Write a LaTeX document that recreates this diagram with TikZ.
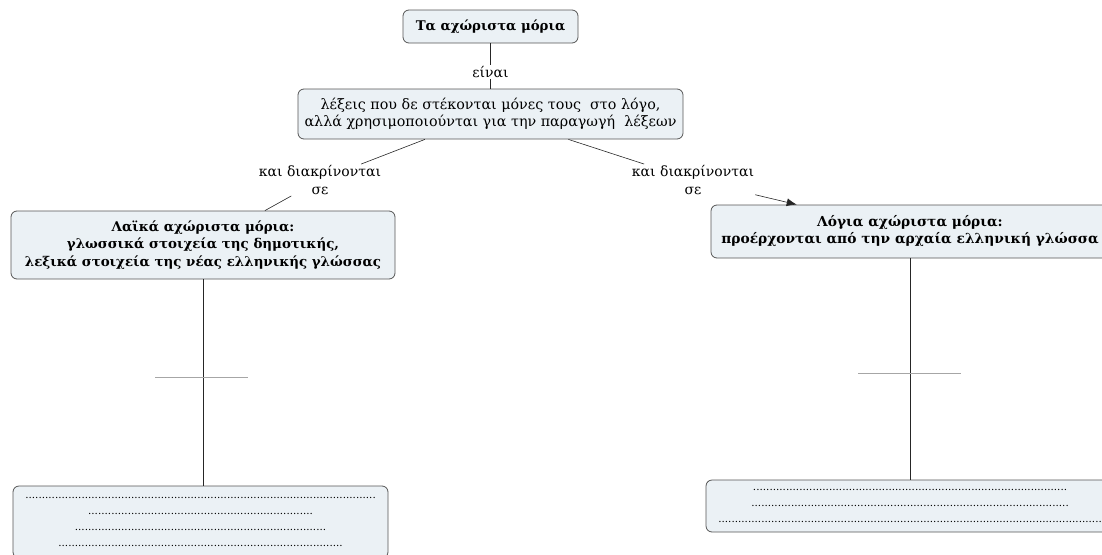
\documentclass[tikz,border=0pt]{standalone}
\usepackage{fontspec}
\setmainfont{DejaVu Serif}
\usetikzlibrary{arrows.meta}

\definecolor{boxfill}{HTML}{EBF1F5}
\definecolor{boxline}{HTML}{555555}
\newcommand{\dotrow}[1]{\foreach \k in {1,...,#1}{.}}

\begin{document}
\begin{tikzpicture}[x=1pt,y=-1pt,
    concept/.style={draw=boxline,fill=boxfill,rounded corners=6pt,thick,
        align=center,inner sep=0pt,font=\fontsize{14.3}{17.5}\selectfont},
    linker/.style={align=center,fill=white,inner sep=1pt,
        font=\fontsize{14}{18}\selectfont},
    link/.style={draw=black!85,semithick},
    emptylink/.style={draw=gray!70,thick}]
    \useasboundingbox (0,0) rectangle (1102,554);

    % Concepts
    \node[concept,minimum width=175,minimum height=33,font=\fontsize{13.3}{17}\selectfont\bfseries]
        (title) at (490.5,26.5) {Τα αχώριστα μόρια};
    \node[concept,minimum width=385,minimum height=50]
        (defn) at (490.5,114) {λέξεις που δε στέκονται μόνες τους \ στο λόγο,\\
        αλλά χρησιμοποιούνται για την παραγωγή \ λέξεων};
    \node[concept,minimum width=384,minimum height=68,font=\fontsize{13.4}{17.5}\selectfont\bfseries]
        (folk) at (203,245) {Λαϊκά αχώριστα μόρια:\\
        γλωσσικά στοιχεία της δημοτικής,\\
        λεξικά στοιχεία της νέας ελληνικής γλώσσας};
    \node[concept,minimum width=398,minimum height=53,font=\fontsize{13.8}{17}\selectfont\bfseries]
        (learned) at (910,231.5) {Λόγια αχώριστα μόρια:\\
        προέρχονται από την αρχαία ελληνική γλώσσα};
    \node[concept,minimum width=375,minimum height=72,font=\fontsize{10.4}{16.3}\selectfont]
        (folkdots) at (200.5,522) {\dotrow{106}\\ \dotrow{68}\\ \dotrow{76}\\ \dotrow{86}};
    \node[concept,minimum width=408,minimum height=52,font=\fontsize{10.4}{16}\selectfont]
        (learneddots) at (910,506) {\dotrow{95}\\ \dotrow{96}\\ \dotrow{116}};

    % Linking phrases
    \node[linker] (are) at (490.5,72) {είναι};
    \node[linker,fill=none] (splitL) at (320,180) {και διακρίνονται\\σε};
    \node[linker,fill=none] (splitR) at (693,180) {και διακρίνονται\\σε};

    % Connectors
    \draw[link] (title) -- (are) -- (defn);
    \draw[link] (defn) -- (splitL);
    \draw[link] (splitL) -- (folk);
    \draw[link] (defn) -- (splitR);
    \draw[link,-{Latex[length=10pt,width=8pt]}] (splitR) -- (learned);
    \draw[link] (folk.south) -- (folk.south |- folkdots.north);
    \draw[link] (learned.south) -- (learned.south |- learneddots.north);

    % empty linking phrases
    \draw[emptylink] (155,377) -- (248,377);
    \draw[emptylink] (858,373) -- (961,373);
\end{tikzpicture}
\end{document}
